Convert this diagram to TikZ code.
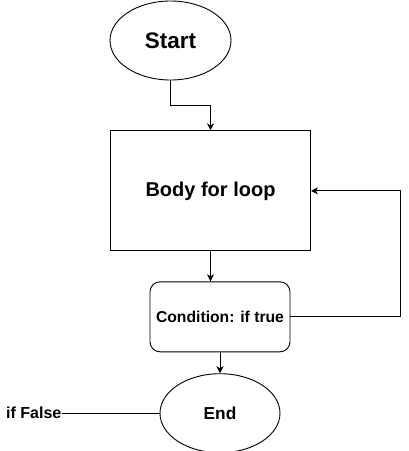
\documentclass[tikz,border=0pt]{standalone}
\usepackage{fontspec}
\setmainfont{Liberation Sans}
\usetikzlibrary{arrows.meta,positioning,shapes.geometric}

\begin{document}
\begin{tikzpicture}[
        x=1pt, y=1pt,
        oval/.style={draw, ellipse, inner sep=0pt, line width=0.9pt},
        box/.style={draw, align=center, inner sep=0pt, line width=0.9pt,
          font=\bfseries\fontsize{20}{24}\selectfont},
        arr/.style={-{Stealth[length=7pt, width=7pt, inset=2pt]}, line width=0.9pt},
        line/.style={line width=0.9pt}
      ]
        \useasboundingbox (0,0) rectangle (409,-451);
        \node[oval, minimum width=121pt, minimum height=79pt,
          font=\bfseries\fontsize{22.5}{26}\selectfont] (start) at (170.5,-40.5) {Start};
        \node[box, minimum width=200pt, minimum height=120pt,
          below=50pt of start, xshift=40pt] (body) {Body for loop};
        \node[box, rounded corners=10pt, minimum width=140pt, minimum height=70pt,
          font=\bfseries\fontsize{15.7}{19}\selectfont,
          below=30pt of body, xshift=9.5pt] (cond) {Condition: if true};
        \node[oval, minimum width=120pt, minimum height=79pt,
          font=\bfseries\fontsize{17.3}{20}\selectfont, below=21pt of cond] (stop) {End};
        \node[inner sep=0pt, font=\bfseries\fontsize{16}{19}\selectfont,
          left=98pt of stop] (false) {if False};
        \draw[arr] (start.south) -- ++(0,-25pt) -| (body.north);
        \draw[arr] (body.south) -- (body.south |- cond.north);
        \draw[arr] (cond.south) -- (stop.north);
        \draw[arr] (cond.east) -- ++(110pt,0) |- (body.east);
        \draw[line] (stop.west) -- (false.east);
      \end{tikzpicture}
\end{document}
